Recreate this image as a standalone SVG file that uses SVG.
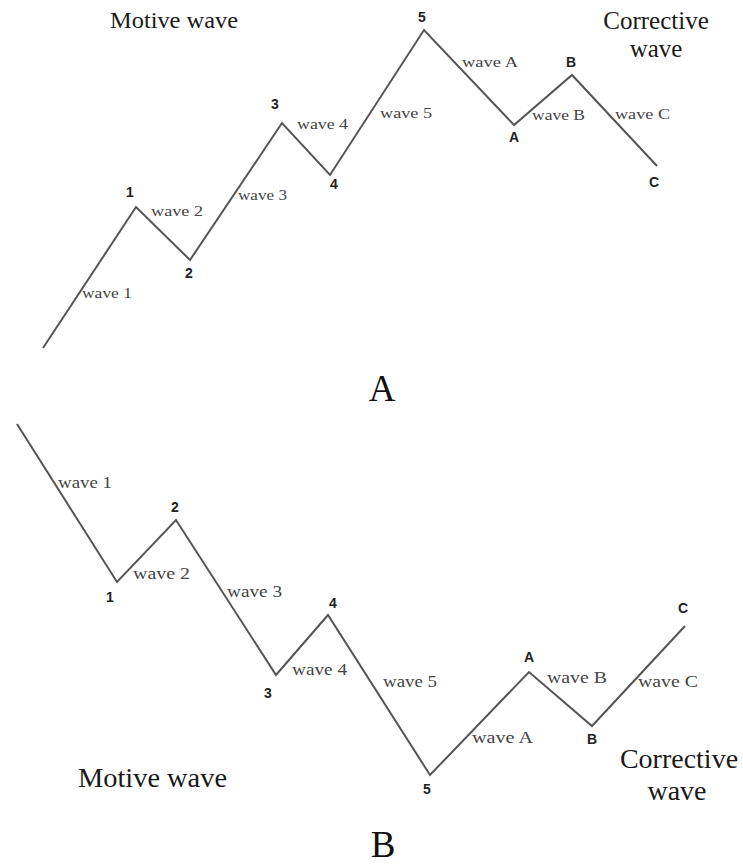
<svg xmlns="http://www.w3.org/2000/svg" width="743" height="866" viewBox="0 0 743 866">
<style>
.bg{fill:#ffffff}
.wave{fill:none;stroke:#555555;stroke-width:2;stroke-linejoin:miter}
.lbl{font-family:"Liberation Serif","Times New Roman",serif;font-size:15px;fill:#444444}
.lblb{font-family:"Liberation Serif","Times New Roman",serif;font-size:16px;fill:#444444}
.pt{font-family:"Liberation Sans",Arial,sans-serif;font-size:14px;font-weight:bold;fill:#222222;text-anchor:middle}
.title{font-family:"Liberation Serif","Times New Roman",serif;fill:#1a1a1a}
.big{font-family:"Liberation Serif","Times New Roman",serif;font-size:37px;fill:#111111;text-anchor:middle}
</style>
<rect class="bg" x="0" y="0" width="743" height="866"/>

<g id="connectors">
  <polyline id="waveA-line" class="wave" points="43,348 136,207 190,260 282,123 330,175 424,30 514,125 572,75 657,166"/>
  <polyline id="waveB-line" class="wave" points="17,424 117,582 176,520 276,675 328,615 430,775 529,672 592,726 685,626"/>
</g>

<g id="diagramA">
  <g id="A-title-motive"><text class="title" x="110" y="28" font-size="24" textLength="128" lengthAdjust="spacingAndGlyphs">Motive wave</text></g>
  <g id="A-title-corrective">
    <text class="title" x="656" y="29" font-size="25" text-anchor="middle">Corrective</text>
    <text class="title" x="656" y="57" font-size="25" text-anchor="middle">wave</text>
  </g>
  <g id="A-p1"><text class="pt" x="130" y="197">1</text></g>
  <g id="A-p2"><text class="pt" x="189" y="278">2</text></g>
  <g id="A-p3"><text class="pt" x="275" y="109">3</text></g>
  <g id="A-p4"><text class="pt" x="334" y="189">4</text></g>
  <g id="A-p5"><text class="pt" x="422" y="22">5</text></g>
  <g id="A-pA"><text class="pt" x="514" y="142">A</text></g>
  <g id="A-pB"><text class="pt" x="571" y="67">B</text></g>
  <g id="A-pC"><text class="pt" x="654" y="187">C</text></g>
  <g id="A-w1"><text class="lbl" x="82" y="298" textLength="50" lengthAdjust="spacingAndGlyphs">wave 1</text></g>
  <g id="A-w2"><text class="lbl" x="151" y="216" textLength="52" lengthAdjust="spacingAndGlyphs">wave 2</text></g>
  <g id="A-w3"><text class="lbl" x="238" y="200" textLength="49" lengthAdjust="spacingAndGlyphs">wave 3</text></g>
  <g id="A-w4"><text class="lbl" x="297" y="129" textLength="51" lengthAdjust="spacingAndGlyphs">wave 4</text></g>
  <g id="A-w5"><text class="lbl" x="380" y="118" textLength="52" lengthAdjust="spacingAndGlyphs">wave 5</text></g>
  <g id="A-wA"><text class="lbl" x="462" y="67" textLength="56" lengthAdjust="spacingAndGlyphs">wave A</text></g>
  <g id="A-wB"><text class="lbl" x="532" y="120" textLength="53" lengthAdjust="spacingAndGlyphs">wave B</text></g>
  <g id="A-wC"><text class="lbl" x="615" y="119" textLength="55" lengthAdjust="spacingAndGlyphs">wave C</text></g>
  <g id="A-caption"><text class="big" x="382" y="401">A</text></g>
</g>

<g id="diagramB">
  <g id="B-title-motive"><text class="title" x="78" y="787" font-size="28" textLength="149" lengthAdjust="spacingAndGlyphs">Motive wave</text></g>
  <g id="B-title-corrective">
    <text class="title" x="679" y="768" font-size="28" text-anchor="middle">Corrective</text>
    <text class="title" x="677" y="800" font-size="28" text-anchor="middle">wave</text>
  </g>
  <g id="B-p1"><text class="pt" x="110" y="602">1</text></g>
  <g id="B-p2"><text class="pt" x="175" y="512">2</text></g>
  <g id="B-p3"><text class="pt" x="268" y="698">3</text></g>
  <g id="B-p4"><text class="pt" x="333" y="608">4</text></g>
  <g id="B-p5"><text class="pt" x="427" y="794">5</text></g>
  <g id="B-pA"><text class="pt" x="529" y="662">A</text></g>
  <g id="B-pB"><text class="pt" x="592" y="744">B</text></g>
  <g id="B-pC"><text class="pt" x="683" y="613">C</text></g>
  <g id="B-w1"><text class="lblb" x="58" y="488" textLength="54" lengthAdjust="spacingAndGlyphs">wave 1</text></g>
  <g id="B-w2"><text class="lblb" x="133" y="579" textLength="57" lengthAdjust="spacingAndGlyphs">wave 2</text></g>
  <g id="B-w3"><text class="lblb" x="227" y="597" textLength="55" lengthAdjust="spacingAndGlyphs">wave 3</text></g>
  <g id="B-w4"><text class="lblb" x="292" y="675" textLength="55" lengthAdjust="spacingAndGlyphs">wave 4</text></g>
  <g id="B-w5"><text class="lblb" x="383" y="687" textLength="54" lengthAdjust="spacingAndGlyphs">wave 5</text></g>
  <g id="B-wA"><text class="lblb" x="472" y="743" textLength="61" lengthAdjust="spacingAndGlyphs">wave A</text></g>
  <g id="B-wB"><text class="lblb" x="547" y="683" textLength="60" lengthAdjust="spacingAndGlyphs">wave B</text></g>
  <g id="B-wC"><text class="lblb" x="638" y="687" textLength="60" lengthAdjust="spacingAndGlyphs">wave C</text></g>
  <g id="B-caption"><text class="big" x="383" y="857">B</text></g>
</g>
</svg>
